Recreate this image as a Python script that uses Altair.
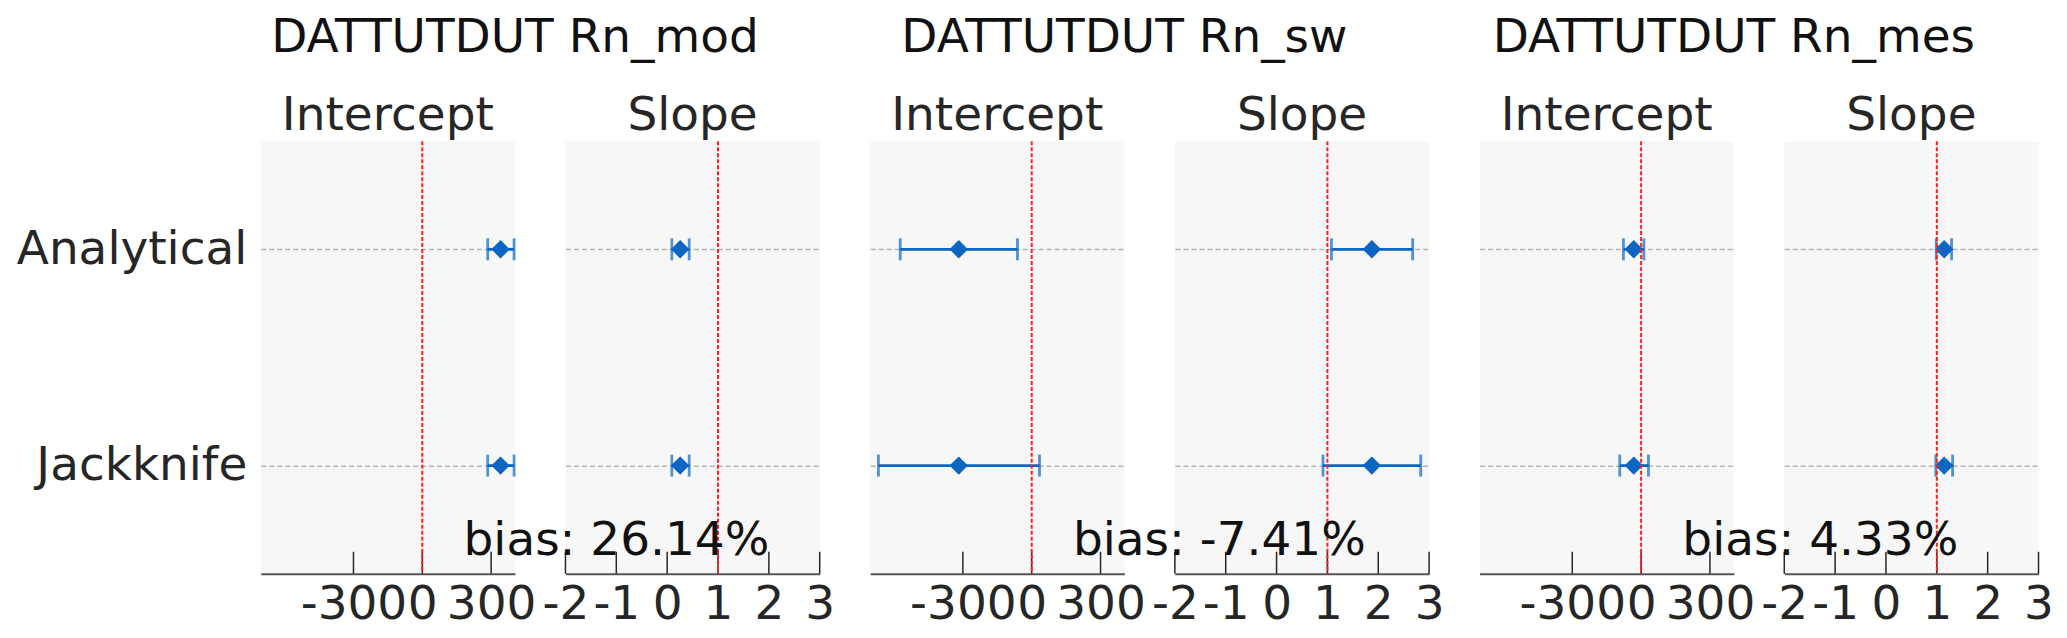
import altair as alt
import pandas as pd

# ---------------- data ----------------
categories = ["Analytical", "Jackknife"]
group_titles = ["DATTUTDUT Rn_mod", "DATTUTDUT Rn_sw", "DATTUTDUT Rn_mes"]
bias_labels = ["bias: 26.14%", "bias: -7.41%", "bias: 4.33%"]
panel_names = ["Intercept", "Slope"]

intercept_est = [[341, 341], [-318, -318], [-32, -32]]
intercept_lo = [[285, 285], [-573, -668], [-77, -93]]
intercept_hi = [[400, 400], [-62, 34], [12, 32]]

slope_est = [[0.256, 0.256], [1.874, 1.874], [1.145, 1.145]]
slope_lo = [[0.092, 0.092], [1.079, 0.913], [0.99, 0.98]]
slope_hi = [[0.433, 0.433], [2.677, 2.835], [1.29, 1.31]]

intercept_ref = 0
slope_ref = 1
intercept_domain = [-704, 404]
slope_domain = [-2, 3]
intercept_ticks = [-300, 0, 300]
slope_ticks = [-2, -1, 0, 1, 2, 3]

# ---------------- style ----------------
W, H = 254.5, 433
FONT = "DejaVu Sans"
FS = 47
TXT = "#262626"
BLUE = "#0a66c2"


def panel(est, lo, hi, ref, domain, ticks, name, first, group_title=None, bias=None):
    df = pd.DataFrame({"method": categories, "est": est, "lo": lo, "hi": hi})
    xs = alt.Scale(domain=domain, nice=False, zero=False)
    ys = alt.Scale(type="point", padding=0.5, domain=categories)
    yaxis = alt.Axis(
        title=None, grid=True, gridDash=[5, 3], gridColor="#b5b5b5", gridWidth=1.5,
        ticks=False, domain=False, labels=first, labelFontSize=FS, labelPadding=14,
        labelColor=TXT, labelFont=FONT, labelLimit=0,
    )
    xaxis = alt.Axis(
        title=None, values=ticks, grid=False, ticks=False, tickSize=0,
        domainColor="#555555", domainWidth=2, labelFontSize=FS, labelFont=FONT,
        labelColor=TXT, labelPadding=45, labelBaseline="alphabetic",
        labelOverlap=False, labelFlush=False, labelExpr="toString(datum.value)",
        labelLimit=0,
    )
    y = alt.Y("method:N", scale=ys, axis=yaxis, sort=categories)

    def X(field):
        return alt.X(field, scale=xs, axis=xaxis)

    base = alt.Chart(df)
    tick_df = pd.DataFrame({"t": ticks})
    tick_rules = alt.Chart(tick_df).mark_rule(color=TXT, strokeWidth=1.5).encode(
        x=X("t:Q"), y=alt.value(H - 22), y2=alt.value(H)
    )
    bars = base.mark_rule(color=BLUE, strokeWidth=2.8).encode(x=X("lo:Q"), x2="hi:Q", y=y)
    cap_lo = base.mark_tick(color=BLUE, size=22, thickness=2.8, orient="vertical").encode(x=X("lo:Q"), y=y)
    cap_hi = base.mark_tick(color=BLUE, size=22, thickness=2.8, orient="vertical").encode(x=X("hi:Q"), y=y)
    pts = base.mark_point(shape="diamond", filled=True, size=340, color=BLUE, opacity=1).encode(x=X("est:Q"), y=y)
    ref_line = alt.Chart(pd.DataFrame({"r": [ref]})).mark_rule(
        color="#ff1f1f", strokeDash=[4, 2], strokeWidth=2
    ).encode(x=X("r:Q"))

    layers = [tick_rules, bars, cap_lo, cap_hi, pts, ref_line]

    name_txt = alt.Chart(pd.DataFrame({"s": [name]})).mark_text(
        font=FONT, fontSize=FS, color=TXT, align="center", baseline="alphabetic"
    ).encode(x=alt.value(W / 2), y=alt.value(-11), text="s:N")
    layers.append(name_txt)

    if group_title is not None:
        gt = alt.Chart(pd.DataFrame({"s": [group_title]})).mark_text(
            font=FONT, fontSize=FS, color="#111111", align="center", baseline="alphabetic"
        ).encode(x=alt.value(W), y=alt.value(-89), text="s:N")
        layers.append(gt)
    if bias is not None:
        bt = alt.Chart(pd.DataFrame({"s": [bias]})).mark_text(
            font=FONT, fontSize=FS, color="#111111", align="left", baseline="alphabetic"
        ).encode(x=alt.value(-102), y=alt.value(414), text="s:N")
        layers.append(bt)

    return alt.layer(*layers).properties(width=W, height=H)


panels = []
for g in range(3):
    panels.append(panel(intercept_est[g], intercept_lo[g], intercept_hi[g], intercept_ref,
                        intercept_domain, intercept_ticks, panel_names[0], g == 0,
                        group_title=group_titles[g]))
    panels.append(panel(slope_est[g], slope_lo[g], slope_hi[g], slope_ref,
                        slope_domain, slope_ticks, panel_names[1], False,
                        bias=bias_labels[g]))

chart = alt.hconcat(*panels, spacing=50, bounds="flush").configure(
    font=FONT
).configure_view(
    fill="#f7f7f7", stroke="transparent", strokeWidth=0
).properties(
    padding={"left": 8, "top": 6, "right": 5, "bottom": 2}, background="white"
)

chart.save("out.html", embed_options={"renderer": "svg", "actions": False})
